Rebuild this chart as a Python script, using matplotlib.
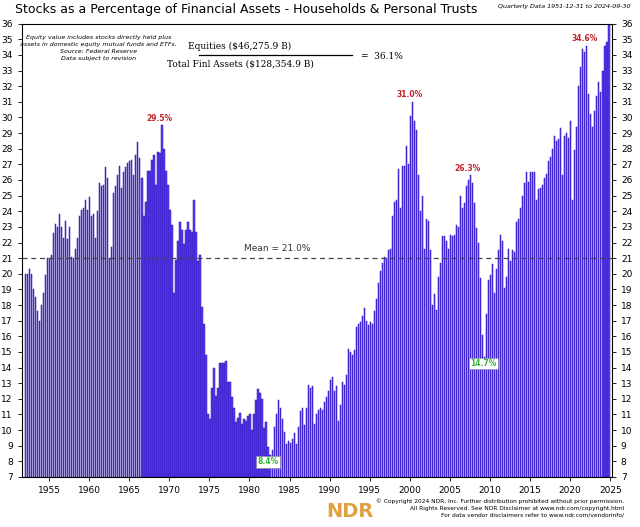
import matplotlib
matplotlib.use("Agg")
import matplotlib.pyplot as plt
import numpy as np

# quarterly values, % of financial assets
q4_1951 = [20.0]
by_year = {
    1952: [20.0, 20.3, 20.0, 19.0], 1953: [18.5, 17.6, 17.0, 18.0],
    1954: [18.8, 19.9, 21.0, 21.0], 1955: [21.2, 22.6, 23.2, 23.0],
    1956: [23.8, 23.0, 22.3, 23.4], 1957: [22.2, 23.0, 21.1, 21.0],
    1958: [21.6, 22.3, 23.7, 24.1], 1959: [24.2, 24.7, 24.1, 24.9],
    1960: [23.7, 23.8, 22.3, 24.0], 1961: [25.8, 25.6, 25.7, 26.8],
    1962: [26.1, 21.0, 21.7, 25.2], 1963: [25.6, 26.3, 26.9, 25.5],
    1964: [26.5, 26.8, 27.1, 27.2], 1965: [27.3, 26.3, 27.6, 28.4],
    1966: [27.4, 26.1, 23.7, 24.6], 1967: [26.6, 26.6, 27.3, 27.6],
    1968: [25.7, 27.8, 27.7, 29.5], 1969: [28.0, 26.6, 25.7, 24.1],
    1970: [23.1, 18.8, 20.9, 22.1], 1971: [23.3, 22.8, 21.9, 22.8],
    1972: [23.3, 22.8, 22.7, 24.7], 1973: [22.7, 20.8, 21.2, 17.9],
    1974: [16.8, 14.8, 11.0, 10.7], 1975: [12.7, 14.0, 12.2, 12.7],
    1976: [14.3, 14.3, 14.3, 14.4], 1977: [13.1, 13.1, 12.1, 11.4],
    1978: [10.5, 10.8, 11.1, 10.4], 1979: [10.7, 10.6, 10.9, 11.0],
    1980: [10.0, 11.0, 11.9, 12.6], 1981: [12.4, 12.0, 10.1, 10.5],
    1982: [8.9, 8.4, 8.7, 10.2], 1983: [11.0, 11.9, 11.4, 10.7],
    1984: [9.9, 9.1, 9.3, 9.2], 1985: [9.4, 9.8, 9.1, 10.2],
    1986: [11.2, 11.4, 10.3, 11.4], 1987: [12.9, 12.7, 12.8, 10.4],
    1988: [11.0, 11.3, 11.4, 11.3], 1989: [11.8, 12.1, 12.5, 13.2],
    1990: [13.4, 12.5, 12.8, 10.6], 1991: [11.6, 13.1, 12.9, 13.5],
    1992: [15.2, 15.0, 14.8, 15.1], 1993: [16.6, 16.8, 16.9, 17.3],
    1994: [17.8, 17.0, 16.7, 16.9], 1995: [16.8, 17.6, 18.4, 19.4],
    1996: [20.2, 20.7, 21.1, 21.0], 1997: [21.5, 21.6, 23.7, 24.6],
    1998: [24.7, 26.7, 24.2, 26.9], 1999: [26.9, 28.2, 27.0, 30.1],
    2000: [31.0, 29.8, 29.2, 26.3], 2001: [24.0, 25.0, 21.6, 23.5],
    2002: [23.4, 21.5, 18.0, 18.7], 2003: [17.7, 19.8, 20.7, 22.4],
    2004: [22.4, 22.1, 21.6, 22.5], 2005: [22.4, 22.5, 23.1, 23.0],
    2006: [25.0, 24.2, 24.5, 25.6], 2007: [26.0, 26.3, 25.8, 24.5],
    2008: [22.9, 22.0, 19.7, 16.1], 2009: [14.7, 17.4, 19.6, 19.9],
    2010: [20.6, 18.8, 20.3, 21.5], 2011: [22.5, 22.1, 19.1, 19.8],
    2012: [21.6, 20.8, 21.5, 21.4], 2013: [23.3, 23.5, 24.2, 25.0],
    2014: [25.8, 26.5, 25.9, 26.5], 2015: [26.5, 26.5, 24.7, 25.4],
    2016: [25.5, 25.7, 26.1, 26.4], 2017: [27.2, 27.5, 28.0, 28.8],
    2018: [28.5, 28.6, 29.3, 26.3], 2019: [28.8, 29.0, 28.7, 29.8],
    2020: [24.7, 27.9, 29.4, 32.0], 2021: [33.2, 34.4, 34.2, 34.6],
    2022: [31.5, 30.2, 29.4, 30.4], 2023: [31.4, 32.3, 31.6, 33.0],
}
q_2024 = [34.6, 34.8, 36.1]

values = list(q4_1951)
for y in sorted(by_year):
    values += by_year[y]
values += q_2024
values = np.array(values)
# quarter-end positions as decimal years, starting 1951-12-31
dates = 1952.0 + np.arange(len(values)) * 0.25

mean_val = 21.0
year_ticks = list(range(1955, 2030, 5))
y_ticks = list(range(7, 37))

fig = plt.figure(figsize=(6.4, 5.27), dpi=100)
ax = fig.add_axes([0.034, 0.095, 0.922, 0.86])

ax.bar(dates, values - 7, bottom=7, width=0.16, color="#5a3cf2",
       edgecolor="#2a0fb0", linewidth=0.35, align="edge")
ax.axhline(mean_val, color="#444444", ls=(0, (4, 3)), lw=0.9)
ax.text(1983.5, mean_val + 0.3, "Mean = 21.0%", fontsize=6.5, ha="center", va="bottom", color="#333333")

ax.set_xlim(1951.6, 2025.2)
ax.set_ylim(7, 36)
ax.set_xticks(year_ticks)
ax.set_yticks(y_ticks)
ax.tick_params(axis="both", labelsize=6.5, length=3, width=0.6, direction="out")
ax.tick_params(axis="y", right=True, labelright=True)
for s in ax.spines.values():
    s.set_linewidth(0.8)

# peak / trough labels
ax.text(1968.75, 29.8, "29.5%", color="#c0252a", fontsize=5.5, ha="center", weight="bold")
ax.text(2000.0, 31.3, "31.0%", color="#c0252a", fontsize=5.5, ha="center", weight="bold")
ax.text(2007.25, 26.6, "26.3%", color="#c0252a", fontsize=5.5, ha="center", weight="bold")
ax.text(2021.75, 34.9, "34.6%", color="#c0252a", fontsize=5.5, ha="center", weight="bold")
ax.text(1982.3, 7.8, "8.4%", color="#3cb43c", fontsize=5.5, ha="center", weight="bold",
        bbox=dict(fc="white", ec="#888888", lw=0.4, pad=1))
ax.text(2009.2, 14.1, "14.7%", color="#3cb43c", fontsize=5.5, ha="center", weight="bold",
        bbox=dict(fc="white", ec="#888888", lw=0.4, pad=1))

ax.text(0.13, 0.975, "Equity value includes stocks directly held plus\n"
        "assets in domestic equity mutual funds and ETFs.\nSource: Federal Reserve\nData subject to revision",
        transform=ax.transAxes, fontsize=4.5, style="italic", ha="center", va="top", linespacing=1.5)
ax.text(0.37, 0.945, "Equities ($46,275.9 B)", transform=ax.transAxes, fontsize=6.5,
        family="DejaVu Serif", ha="center")
ax.plot([0.30, 0.56], [0.932, 0.932], transform=ax.transAxes, color="black", lw=0.9)
ax.text(0.37, 0.905, "Total Finl Assets ($128,354.9 B)", transform=ax.transAxes, fontsize=6.5,
        family="DejaVu Serif", ha="center")
ax.text(0.575, 0.922, "=  36.1%", transform=ax.transAxes, fontsize=6.5, family="DejaVu Serif")

fig.text(0.385, 0.995, "Stocks as a Percentage of Financial Assets - Households & Personal Trusts",
         fontsize=9.0, ha="center", va="top")
fig.text(0.985, 0.993, "Quarterly Data 1951-12-31 to 2024-09-30", fontsize=4.6, style="italic",
         ha="right", va="top")

fig.text(0.51, 0.012, "NDR", fontsize=14, weight="bold", color="#e0a040", ha="left", va="bottom")
fig.text(0.975, 0.055, "© Copyright 2024 NDR, Inc. Further distribution prohibited without prior permission.\n"
         "All Rights Reserved. See NDR Disclaimer at www.ndr.com/copyright.html\n"
         "For data vendor disclaimers refer to www.ndr.com/vendorinfo/",
         fontsize=4.2, ha="right", va="top", linespacing=1.5)

fig.savefig("out.png", dpi=100)
